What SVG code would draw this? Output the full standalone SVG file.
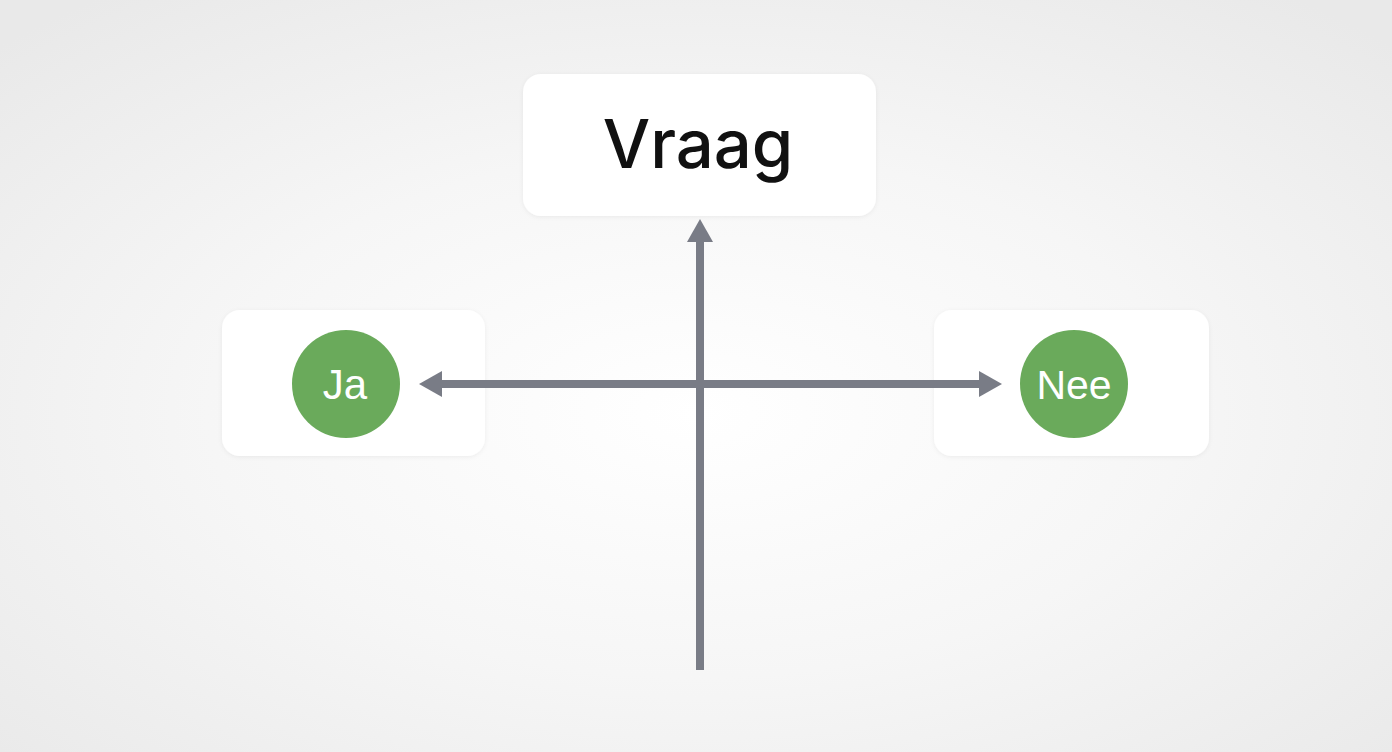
<svg xmlns="http://www.w3.org/2000/svg" width="1392" height="752" viewBox="0 0 1392 752">
  <defs>
    <radialGradient id="bg" cx="50%" cy="55%" r="70%">
      <stop offset="0" stop-color="#ffffff"/>
      <stop offset="0.5" stop-color="#f6f6f6"/>
      <stop offset="1" stop-color="#e9e9e9"/>
    </radialGradient>
    <filter id="sh" x="-10%" y="-10%" width="120%" height="130%">
      <feDropShadow dx="0" dy="1" stdDeviation="2" flood-color="#000" flood-opacity="0.06"/>
    </filter>
    <style>
      .box { fill: #ffffff; filter: url(#sh); }
      .dot { fill: #6aaa5b; }
      .line { stroke: #797c86; stroke-width: 8; fill: none; }
      .head { fill: #797c86; }
      .t { font-family: "Liberation Sans", Arial, sans-serif; text-anchor: middle; }
      .title { font-family: Inter, "Liberation Sans", Arial, sans-serif; font-weight: 500; text-anchor: middle; }
    </style>
  </defs>
  <rect width="1392" height="752" fill="url(#bg)"/>

  <g id="vraag">
    <rect class="box" x="523" y="74" width="353" height="142" rx="18"/>
    <text class="title" x="698" y="168" font-size="67" fill="#111">Vraag</text>
  </g>

  <g id="ja">
    <rect class="box" x="222" y="310" width="263" height="146" rx="18"/>
    <circle class="dot" cx="346" cy="384" r="54"/>
    <text class="t" x="345" y="399" font-size="42" fill="#ffffff">Ja</text>
  </g>

  <g id="nee">
    <rect class="box" x="934" y="310" width="275" height="146" rx="18"/>
    <circle class="dot" cx="1074" cy="384" r="54"/>
    <text class="t" x="1074" y="399" font-size="41" fill="#ffffff">Nee</text>
  </g>

  <g id="connectors">
    <line class="line" x1="700" y1="670" x2="700" y2="238"/>
    <polygon class="head" points="700,219 687,242 713,242"/>
    <line class="line" x1="438" y1="384" x2="984" y2="384"/>
    <polygon class="head" points="419,384 442,371 442,397"/>
    <polygon class="head" points="1002,384 979,371 979,397"/>
  </g>
</svg>
